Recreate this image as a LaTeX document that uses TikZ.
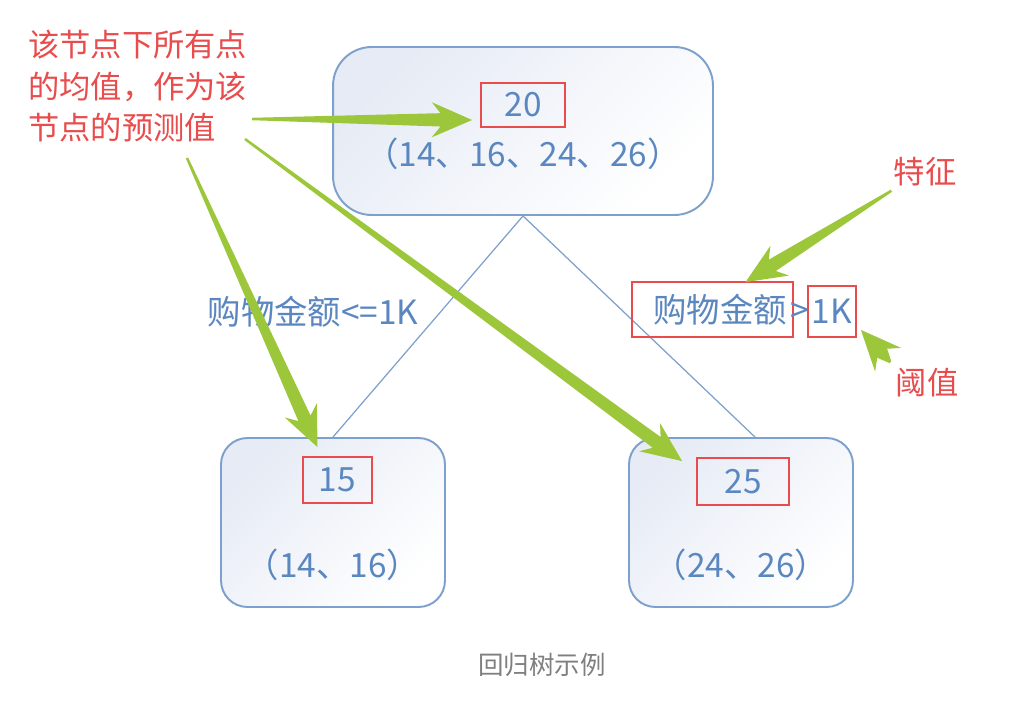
\documentclass[tikz,border=0pt]{standalone}
\usepackage{fontspec}
\setmainfont{Noto Sans CJK SC}
\usetikzlibrary{calc}
\definecolor{boxblue}{HTML}{7DA0CC}
\definecolor{valblue}{HTML}{5A87C0}
\definecolor{boxfill}{HTML}{E6EBF5}
\definecolor{notered}{HTML}{E84C4C}
\definecolor{pointgreen}{HTML}{9DC73A}
\definecolor{capgray}{HTML}{7F7F7F}
\tikzset{
  treebox/.style={draw=boxblue, line width=1.1pt, top color=boxfill, bottom color=white, shading angle=45},
  valtext/.style={text=valblue, font=\fontsize{19}{22}\selectfont, inner sep=0pt},
  valbox/.style={draw=notered, line width=1pt, text=valblue, font=\fontsize{19}{22}\selectfont, inner sep=0pt},
  note/.style={text=notered, font=\fontsize{17.8}{23.5}\selectfont, inner sep=0pt},
  edge/.style={draw=boxblue, line width=0.7pt},
  pointer/.style={fill=pointgreen}
}

\begin{document}
\begin{tikzpicture}[x=0.02cm, y=-0.02cm]
  \fill[white] (0,0) rectangle (1032,710);
  \useasboundingbox (0,0) rectangle (1032,710);
  \node[treebox, rounded corners=22pt, minimum width=7.6cm, minimum height=3.36cm] at (523,131) (root) {};
  \node[treebox, rounded corners=15pt, minimum width=4.48cm, minimum height=3.38cm] at (333,522.5) (left) {};
  \node[treebox, rounded corners=15pt, minimum width=4.48cm, minimum height=3.38cm] at (741,522.5) (right) {};
  \draw[edge] (root.south) -- (left.north);
  \draw[edge] (root.south) -- ($(right.north)+(14,0)$);
  \node[valbox, minimum width=1.68cm, minimum height=0.88cm] at (523,105) (v20) {20};
  \node[valtext] at (523,154) (rootset) {（14、16、24、26）};
  \node[valbox, minimum width=1.38cm, minimum height=0.92cm] at (337.5,480) (v15) {15};
  \node[valtext] at (333,565) (leftset) {（14、16）};
  \node[valbox, minimum width=1.84cm, minimum height=0.94cm] at (743,481.5) (v25) {25};
  \node[valtext] at (741,565) (rightset) {（24、26）};
  \node[valtext] at (313,312) (lcond) {购物金额<=1K};
  \node[valbox, text width=2.98cm, align=right, inner xsep=0.12cm, minimum height=1.1cm] at (712.5,309.5) (feat) {购物金额};
  \node[valtext] at (800,313) (gt) {>};
  \node[valbox, minimum width=0.96cm, minimum height=1.02cm] at (832,311.5) (thr) {1K};
  \node[note, anchor=north west, align=left] at (28,30) (mean) {该节点下所有点\\的均值，作为该\\节点的预测值};
  \node[note] at (925,172) (featlab) {特征};
  \node[note] at (927,383) (thrlab) {阈值};
  \node[text=capgray, font=\fontsize{14.5}{17}\selectfont] at (542,665) (cap) {回归树示例};
  \coordinate (a1) at (252,119);
  \coordinate (a2) at (187,158);
  \coordinate (a3) at (245,139);
  \coordinate (a4) at ($(featlab.south west)+(-2,4)$);
  \coordinate (a5) at ($(thrlab.north west)+(-5,-6)$);
  \coordinate (b1) at ($(v20.west)+(-8,15)$);
  \coordinate (b2) at ($(v15.north)+(-20,-9)$);
  \coordinate (b3) at ($(v25.north west)+(-14,4)$);
  \coordinate (b4) at ($(feat.north)+(33,1)$);
  \coordinate (b5) at ($(thr.south east)+(4,-8)$);
  \foreach \s/\e in {a1/b1,a2/b2,a3/b3,a4/b4,a5/b5} {
    \coordinate (hb) at ($(\e)!18pt!(\s)$);
    \coordinate (hk) at ($(\e)!23pt!(\s)$);
    \fill[pointer] ($(\s)!0.7pt!90:(\e)$) -- ($(hb)!3.8pt!90:(\e)$) -- ($(hk)!10pt!90:(\e)$) -- (\e)
      -- ($(hk)!10pt!-90:(\e)$) -- ($(hb)!3.8pt!-90:(\e)$) -- ($(\s)!0.7pt!-90:(\e)$) -- cycle;
  }
\end{tikzpicture}
\end{document}
